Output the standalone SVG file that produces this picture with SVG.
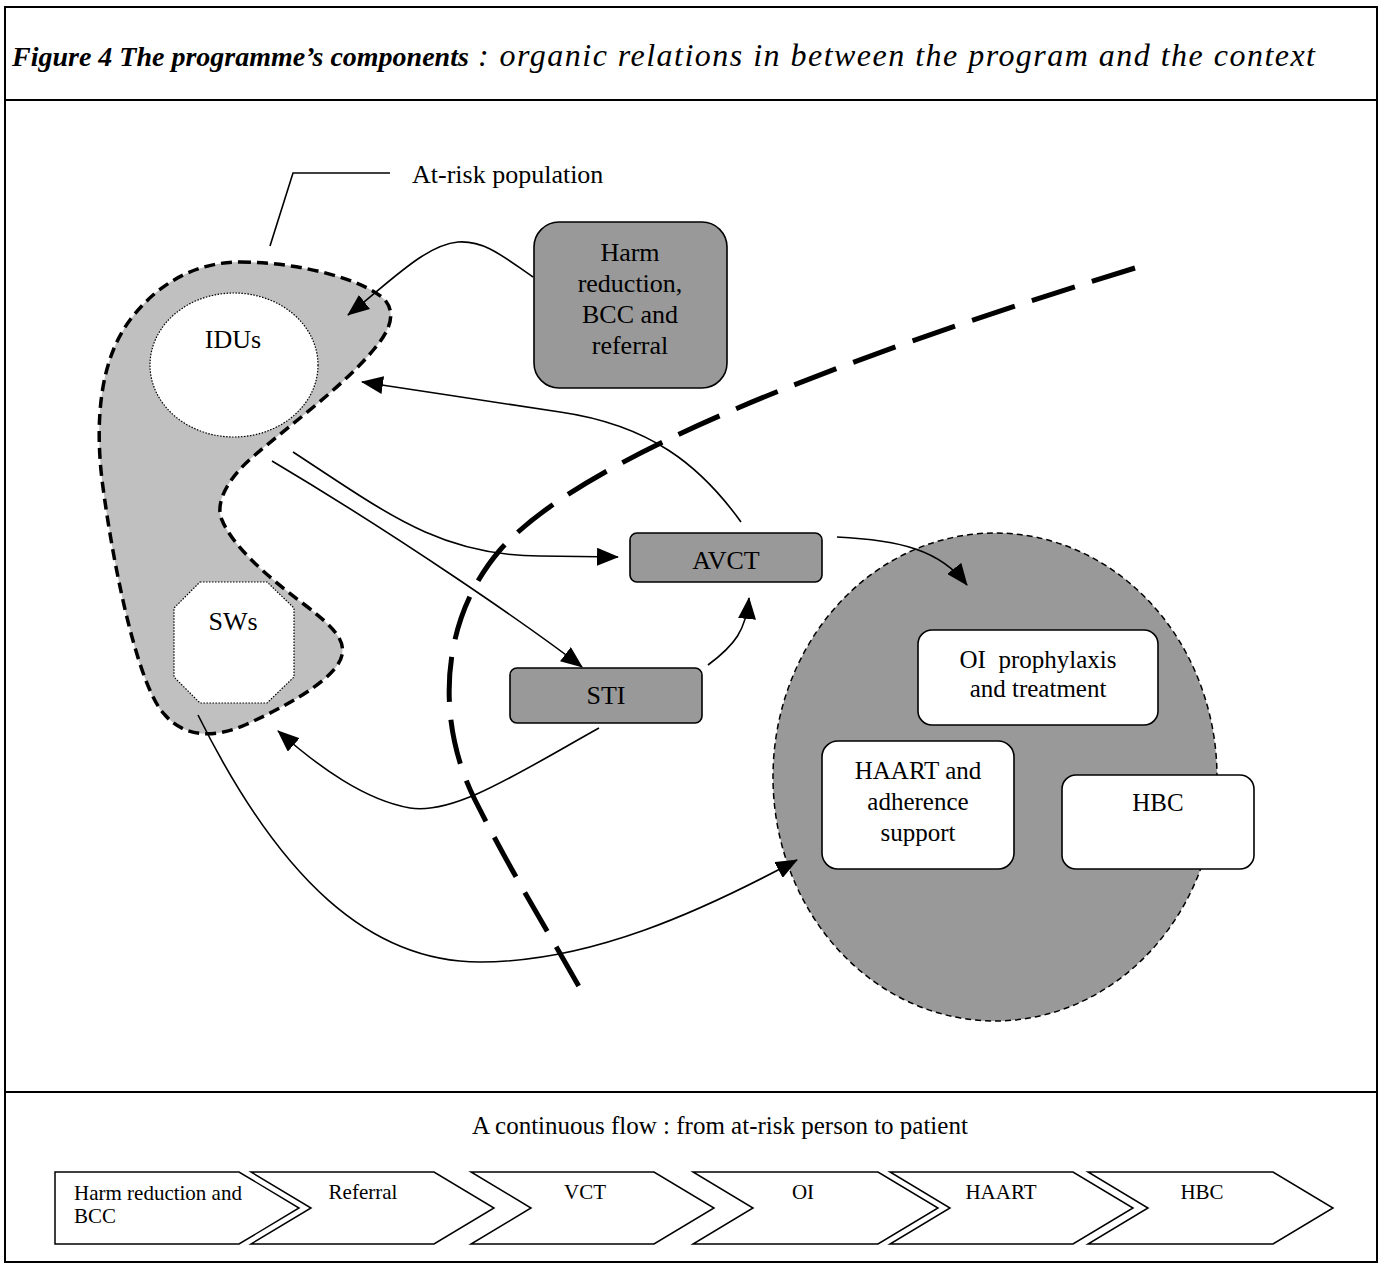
<svg xmlns="http://www.w3.org/2000/svg" width="1382" height="1264" viewBox="0 0 1382 1264">
<style>
text{font-family:"Liberation Serif","Times New Roman",serif;fill:#000}
.t26{font-size:26px}
.t24{font-size:25px}
.t21{font-size:21px}
.mid{text-anchor:middle}
.conn{fill:none;stroke:#000;stroke-width:1.6}
.gbox{fill:#999;stroke:#000;stroke-width:1.6}
.wbox{fill:#fff;stroke:#000;stroke-width:1.6}
.chev{fill:#fff;stroke:#000;stroke-width:1.5}
.frame{fill:none;stroke:#000;stroke-width:2}
</style>
<defs>
<marker id="ah" markerWidth="22" markerHeight="18" refX="21" refY="9" orient="auto" markerUnits="userSpaceOnUse">
<path d="M0,0 L22,9 L0,18 z" fill="#000"/>
</marker>
</defs>
<rect width="1382" height="1264" fill="#fff"/>
<g id="frame">
<rect class="frame" x="5" y="7" width="1372" height="1255"/>
<line class="frame" x1="5" y1="100" x2="1377" y2="100"/>
<line class="frame" x1="5" y1="1092" x2="1377" y2="1092"/>
</g>
<g id="title">
<text x="12" y="66" font-size="28" font-style="italic" font-weight="bold">Figure 4 The programme’s components</text>
<text x="478" y="66" font-size="32" font-style="italic" textLength="837" lengthAdjust="spacing">: organic relations in between the program and the context</text>
</g>
<g id="boundary">
<path d="M1135 268 C820 365 580 460 500 550 C440 620 435 720 475 800 C510 870 550 935 581 990" fill="none" stroke="#000" stroke-width="5" stroke-dasharray="45 18"/>
</g>
<g id="at-risk-population">
<path d="M240 262 C300 262 365 280 385 300 C395 312 392 328 375 348 C345 385 290 425 255 455 C225 480 215 505 222 520 C232 545 265 575 305 605 C335 628 345 640 342 655 C338 675 300 700 245 725 C215 738 185 738 165 715 C140 690 115 580 102 480 C95 420 100 360 130 320 C160 280 200 262 240 262 Z" fill="#c0c0c0" stroke="#000" stroke-width="3.5" stroke-dasharray="11 6"/>
<polyline points="390,173 293,173 270,246" fill="none" stroke="#000" stroke-width="1.6"/>
<text class="t26" x="412" y="183">At-risk population</text>
</g>
<g id="idus">
<ellipse cx="234" cy="365" rx="84" ry="72" fill="#fff" stroke="#000" stroke-width="1.2" stroke-dasharray="1.5 1.5"/>
<text class="t26 mid" x="233" y="348">IDUs</text>
</g>
<g id="sws">
<polygon points="200,582 267,582 294,608 294,677 267,703 200,703 174,677 174,608" fill="#fff" stroke="#000" stroke-width="1.2" stroke-dasharray="1.5 1.5"/>
<text class="t26 mid" x="233" y="630">SWs</text>
</g>
<g id="harm-reduction">
<rect class="gbox" x="534" y="222" width="193" height="166" rx="25"/>
<text class="t26 mid" x="630" y="261">Harm</text>
<text class="t26 mid" x="630" y="292">reduction,</text>
<text class="t26 mid" x="630" y="323">BCC and</text>
<text class="t26 mid" x="630" y="354">referral</text>
</g>
<g id="avct">
<rect class="gbox" x="630" y="533" width="192" height="49" rx="7"/>
<text class="t26 mid" x="726" y="569">AVCT</text>
</g>
<g id="sti">
<rect class="gbox" x="510" y="668" width="192" height="55" rx="7"/>
<text class="t26 mid" x="606" y="704">STI</text>
</g>
<g id="care-circle">
<ellipse cx="995" cy="777" rx="222" ry="244" fill="#999" stroke="#000" stroke-width="1.5" stroke-dasharray="6 4"/>
</g>
<g id="oi">
<rect class="wbox" x="918" y="630" width="240" height="95" rx="14"/>
<text class="t24 mid" x="1038" y="668" xml:space="preserve">OI  prophylaxis</text>
<text class="t24 mid" x="1038" y="697">and treatment</text>
</g>
<g id="haart">
<rect class="wbox" x="822" y="741" width="192" height="128" rx="16"/>
<text class="t24 mid" x="918" y="779">HAART and</text>
<text class="t24 mid" x="918" y="810">adherence</text>
<text class="t24 mid" x="918" y="841">support</text>
</g>
<g id="hbc">
<rect class="wbox" x="1062" y="775" width="192" height="94" rx="14"/>
<text class="t24 mid" x="1158" y="811">HBC</text>
</g>
<g id="connectors">
<path class="conn" d="M533 277 C505 258 485 240 458 242 C425 245 390 282 348 315" marker-end="url(#ah)"/>
<path class="conn" d="M741 522 C700 465 650 425 560 412 C490 402 430 392 362 382" marker-end="url(#ah)"/>
<path class="conn" d="M293 452 C385 512 440 556 540 556 L618 557" marker-end="url(#ah)"/>
<path class="conn" d="M272 461 C400 537 530 627 582 667" marker-end="url(#ah)"/>
<path class="conn" d="M708 665 C735 645 746 630 749 598" marker-end="url(#ah)"/>
<path class="conn" d="M837 537 C900 540 940 550 967 585" marker-end="url(#ah)"/>
<path class="conn" d="M599 728 C520 772 455 815 410 808 C365 800 320 768 278 731" marker-end="url(#ah)"/>
<path class="conn" d="M198 715 C280 880 370 962 480 962 C590 962 700 912 797 860" marker-end="url(#ah)"/>
</g>
<g id="flow">
<text class="mid" x="720" y="1134" font-size="25">A continuous flow : from at-risk person to patient</text>
<g id="step-harm"><polygon class="chev" points="55,1172 239,1172 299,1208 239,1244 55,1244"/>
<text class="t21" x="74" y="1200">Harm reduction and</text><text class="t21" x="74" y="1223">BCC</text></g>
<g id="step-referral"><polygon class="chev" points="251,1172 434,1172 494,1208 434,1244 251,1244 311,1208"/>
<text class="t21 mid" x="363" y="1199">Referral</text></g>
<g id="step-vct"><polygon class="chev" points="471,1172 654,1172 714,1208 654,1244 471,1244 531,1208"/>
<text class="t21 mid" x="585" y="1199">VCT</text></g>
<g id="step-oi"><polygon class="chev" points="693,1172 878,1172 938,1208 878,1244 693,1244 753,1208"/>
<text class="t21 mid" x="803" y="1199">OI</text></g>
<g id="step-haart"><polygon class="chev" points="890,1172 1073,1172 1133,1208 1073,1244 890,1244 950,1208"/>
<text class="t21 mid" x="1001" y="1199">HAART</text></g>
<g id="step-hbc"><polygon class="chev" points="1088,1172 1273,1172 1333,1208 1273,1244 1088,1244 1148,1208"/>
<text class="t21 mid" x="1202" y="1199">HBC</text></g>
</g>
</svg>
